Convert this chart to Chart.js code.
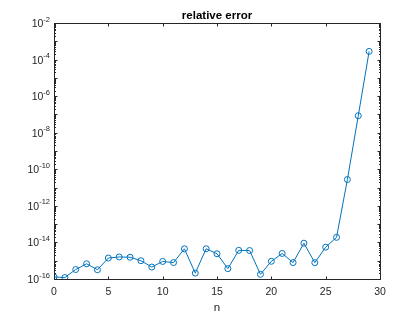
<!DOCTYPE html>
<html>
<head>
<meta charset="utf-8">
<script src="https://cdn.jsdelivr.net/npm/chart.js@4/dist/chart.umd.min.js"></script>
<style>
  html, body { margin: 0; padding: 0; background: #fff; }
  #wrap { width: 420px; height: 315px; }
</style>
</head>
<body>
<div id="wrap"><canvas id="chart" width="420" height="315"></canvas></div>
<script>
(function() {
  'use strict';

  // n = 0..29
  var nValues = [0, 1, 2, 3, 4, 5, 6, 7, 8, 9, 10, 11, 12, 13, 14, 15, 16, 17, 18, 19,
                 20, 21, 22, 23, 24, 25, 26, 27, 28, 29];
  // relative error
  var relErr = [1.3e-16, 1.2e-16, 3.3e-16, 6.8e-16, 3.2e-16, 1.4e-15, 1.6e-15, 1.55e-15,
                1.0e-15, 4.5e-16, 9.1e-16, 7.9e-16, 4.5e-15, 2.1e-16, 4.5e-15, 2.4e-15,
                3.7e-16, 3.7e-15, 3.6e-15, 1.8e-16, 9.3e-16, 2.5e-15, 7.9e-16, 9.1e-15,
                7.8e-16, 5.5e-15, 1.9e-14, 2.75e-11, 8.5e-8, 2.8e-4];
  var xTicks = [0, 5, 10, 15, 20, 25, 30];
  var yLabelExps = [-2, -4, -6, -8, -10, -12, -14, -16];

  var axisColor = '#262626';
  var lineColor = '#0072BD';
  var fontFam = '"Liberation Sans", Arial, sans-serif';

  function drawPow10(ctx, exp, right, y) {
    var base = '10';
    var sup = String(exp);
    ctx.font = '7.5px ' + fontFam;
    var supW = ctx.measureText(sup).width;
    ctx.font = '10.5px ' + fontFam;
    var baseW = ctx.measureText(base).width;
    ctx.textAlign = 'left';
    ctx.textBaseline = 'alphabetic';
    ctx.fillText(base, right - supW - baseW, y + 4);
    ctx.font = '7.5px ' + fontFam;
    ctx.fillText(sup, right - supW, y - 1.5);
  }

  var matlabAxes = {
    id: 'matlabAxes',
    afterDraw: function(chart) {
      var ctx = chart.ctx;
      var xs = chart.scales.x;
      var ys = chart.scales.y;
      var a = chart.chartArea;
      var l = Math.round(a.left) + 0.5, r = Math.round(a.right) + 0.5;
      var t = Math.round(a.top) + 0.5, b = Math.round(a.bottom) + 0.5;

      ctx.save();
      ctx.strokeStyle = axisColor;
      ctx.fillStyle = axisColor;
      ctx.lineWidth = 1;

      // box
      ctx.strokeRect(l, t, r - l, b - t);

      // x ticks (inside, top and bottom)
      ctx.beginPath();
      xTicks.forEach(function(v) {
        var px = Math.round(xs.getPixelForValue(v)) + 0.5;
        ctx.moveTo(px, b); ctx.lineTo(px, b - 3);
        ctx.moveTo(px, t); ctx.lineTo(px, t + 3);
      });
      // y ticks: decades major, 2..9 minor
      for (var e = -16; e <= -2; e++) {
        for (var m = 1; m <= 9; m++) {
          var v = m * Math.pow(10, e);
          if (v > 1.0001e-2) break;
          var py = Math.round(ys.getPixelForValue(v)) + 0.5;
          var len = m === 1 ? 3 : 1.5;
          ctx.moveTo(l, py); ctx.lineTo(l + len, py);
          ctx.moveTo(r, py); ctx.lineTo(r - len, py);
        }
      }
      ctx.stroke();

      // x tick labels
      ctx.font = '10.5px ' + fontFam;
      ctx.textAlign = 'center';
      ctx.textBaseline = 'alphabetic';
      xTicks.forEach(function(v) {
        ctx.fillText(String(v), xs.getPixelForValue(v), b + 15);
      });

      // y tick labels
      yLabelExps.forEach(function(e) {
        drawPow10(ctx, e, a.left - 4, ys.getPixelForValue(Math.pow(10, e)));
      });

      // x axis label
      ctx.font = '11.5px ' + fontFam;
      ctx.textAlign = 'center';
      ctx.fillText('n', (a.left + a.right) / 2, b + 31);

      // title
      ctx.font = 'bold 11.5px ' + fontFam;
      ctx.fillStyle = '#000';
      ctx.fillText('relative error', (a.left + a.right) / 2, t - 5);
      ctx.restore();
    }
  };

  var ctx = document.getElementById('chart').getContext('2d');
  new Chart(ctx, {
    type: 'line',
    data: {
      labels: nValues,
      datasets: [{
        data: relErr,
        borderColor: lineColor,
        borderWidth: 1,
        backgroundColor: 'rgba(0,0,0,0)',
        pointRadius: 3,
        pointBorderWidth: 1,
        pointBorderColor: lineColor,
        pointBackgroundColor: 'rgba(0,0,0,0)',
        tension: 0,
        fill: false
      }]
    },
    options: {
      responsive: false,
      animation: false,
      devicePixelRatio: 1,
      layout: { padding: { left: 54, right: 40, top: 23, bottom: 36 } },
      plugins: {
        legend: { display: false },
        title: { display: false },
        tooltip: { enabled: false }
      },
      scales: {
        x: { type: 'linear', min: 0, max: 30, display: false },
        y: { type: 'logarithmic', min: 1e-16, max: 1e-2, display: false }
      }
    },
    plugins: [matlabAxes]
  });
})();
</script>
</body>
</html>
